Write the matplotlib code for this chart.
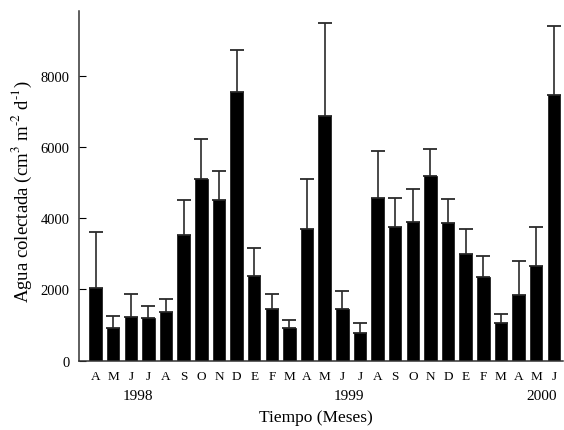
import matplotlib
matplotlib.use("Agg")
import matplotlib.pyplot as plt
import numpy as np

months = ["A", "M", "J", "J", "A", "S", "O", "N", "D", "E", "F", "M", "A", "M",
          "J", "J", "A", "S", "O", "N", "D", "E", "F", "M", "A", "M", "J"]
values = [2030, 910, 1240, 1200, 1380, 3530, 5090, 4510, 7530, 2390, 1450, 910,
          3690, 6880, 1450, 770, 4580, 3760, 3900, 5190, 3870, 3000, 2360, 1050,
          1850, 2650, 7460]
err_top = [3600, 1260, 1870, 1540, 1730, 4500, 6220, 5320, 8720, 3170, 1880, 1150,
           5100, 9470, 1950, 1050, 5900, 4580, 4830, 5940, 4540, 3710, 2950, 1300,
           2800, 3740, 9400]
years = ["1998", "1999", "2000"]
year_pos = [2.4, 14.4, 25.3]

plt.rcParams['font.family'] = ['Liberation Serif', 'DejaVu Serif']
plt.rcParams['mathtext.fontset'] = 'stix'

fig = plt.figure(figsize=(5.64, 4.31), dpi=100)
ax = fig.add_axes([79/564, 1-361.7/431, (563-79)/564, (361.7-12)/431])

x = np.arange(len(values))
vals = np.array(values)
upper = np.array(err_top) - vals
ax.bar(x, vals, width=0.71, color='black', edgecolor='#222222', linewidth=0.6, zorder=2)
ax.errorbar(x, vals, yerr=[np.zeros_like(upper), upper], fmt='none',
            ecolor='#2a2a2a', elinewidth=1.2, capsize=5, capthick=1.3, zorder=1)

ax.set_xlim(-0.94, 26.52)
ax.set_ylim(0, 9816)
ax.set_yticks([0, 2000, 4000, 6000, 8000])
ax.tick_params(axis='y', direction='in', length=5, labelsize=10.5, pad=7)
ax.set_xticks(x)
ax.set_xticklabels(months)
ax.tick_params(axis='x', length=0, labelsize=9.5, pad=7)
for s in ['top', 'right']:
    ax.spines[s].set_visible(False)
for s in ['left', 'bottom']:
    ax.spines[s].set_linewidth(1.1)
    ax.spines[s].set_color('#333333')

for yp, yl in zip(year_pos, years):
    ax.text(yp, -0.1, yl, transform=ax.get_xaxis_transform(), ha='center', va='center', fontsize=11)

fig.text(316/564, 1-418/431, "Tiempo (Meses)", ha='center', va='center', fontsize=12.5)
fig.text(22/564, 1-192/431, r"Agua colectada (cm$^{3}$ m$^{\text{-}2}$ d$^{\text{-}1}$)", rotation=90,
         ha='center', va='center', fontsize=13.5)

fig.savefig("out.png", dpi=100)
